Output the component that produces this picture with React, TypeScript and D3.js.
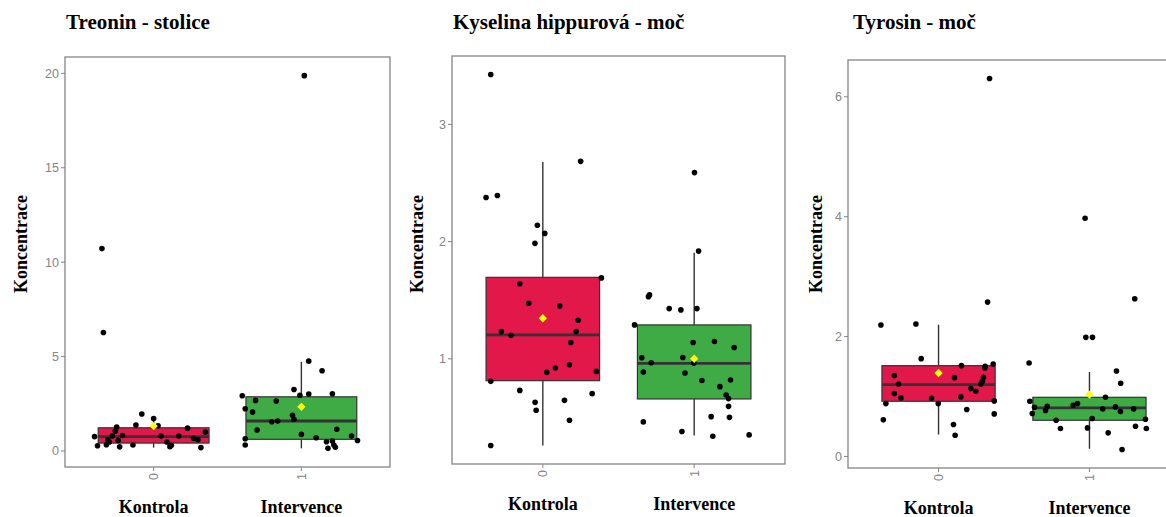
import React from 'react';
import * as d3 from 'd3';

// categories
const groups = ['0', '1'];
const groupLabels = ['Kontrola', 'Intervence'];
const titles = ['Treonin - stolice', 'Kyselina hippurová - moč', 'Tyrosin - moč'];

// y tick values per panel
const treoninTicks = [0, 5, 10, 15, 20];
const hippurTicks = [1, 2, 3];
const tyrosinTicks = [0, 2, 4, 6];

// box stats: [Kontrola, Intervence]
const treoninBox = [
  { lo: 0.18, q1: 0.42, med: 0.76, q3: 1.23, hi: 1.72, mean: 1.32 },
  { lo: 0.14, q1: 0.62, med: 1.59, q3: 2.87, hi: 4.72, mean: 2.34 },
];
const hippurBox = [
  { lo: 0.26, q1: 0.813, med: 1.204, q3: 1.695, hi: 2.68, mean: 1.346 },
  { lo: 0.345, q1: 0.657, med: 0.96, q3: 1.289, hi: 1.905, mean: 1.0 },
];
const tyrosinBox = [
  { lo: 0.366, q1: 0.921, med: 1.199, q3: 1.515, hi: 2.198, mean: 1.393 },
  { lo: 0.128, q1: 0.604, med: 0.811, q3: 0.987, hi: 1.41, mean: 1.032 },
];

// jittered points: [offset from category centre (in category steps), value]
const treoninKontrola = [
  [-0.08, 1.96], [0.0, 1.72], [0.03, 1.34], [-0.12, 1.38], [-0.25, 1.27], [0.23, 1.21],
  [-0.26, 1.05], [0.35, 1.0], [-0.4, 0.76], [-0.28, 0.8], [-0.21, 0.82], [0.05, 0.79],
  [0.17, 0.79], [0.27, 0.67], [0.3, 0.6], [-0.31, 0.58], [-0.3, 0.48], [-0.24, 0.56],
  [0.09, 0.48], [-0.38, 0.28], [-0.32, 0.33], [-0.23, 0.22], [-0.14, 0.32], [0.11, 0.23],
  [0.12, 0.3], [0.32, 0.18], [-0.34, 6.28], [-0.35, 10.72],
];
const treoninIntervence = [
  [0.05, 4.76], [0.14, 4.25], [-0.05, 3.26], [-0.4, 2.93], [-0.01, 2.95], [0.05, 3.02],
  [0.21, 3.03], [-0.31, 2.68], [-0.17, 2.65], [-0.38, 2.24], [-0.33, 2.06], [-0.06, 1.89],
  [-0.05, 1.68], [-0.2, 1.55], [-0.16, 1.59], [-0.3, 1.11], [0.24, 1.15], [0.0, 0.88],
  [0.34, 0.79], [-0.38, 0.65], [0.1, 0.7], [0.38, 0.56], [-0.38, 0.32], [0.17, 0.49],
  [0.21, 0.53], [0.22, 0.32], [0.18, 0.14], [0.23, 0.2], [0.02, 19.88],
];
const hippurKontrola = [
  [0.25, 2.685], [-0.375, 2.376], [-0.3, 2.393], [-0.036, 2.14], [0.013, 2.07], [-0.052, 1.985],
  [0.387, 1.69], [-0.152, 1.64], [-0.093, 1.474], [0.112, 1.451], [0.233, 1.329], [-0.274, 1.232],
  [-0.21, 1.2], [0.22, 1.232], [0.185, 1.139], [0.176, 0.949], [0.083, 0.921], [0.026, 0.884],
  [0.354, 0.892], [-0.344, 0.807], [-0.152, 0.73], [0.326, 0.702], [-0.051, 0.628], [0.143, 0.645],
  [-0.044, 0.56], [0.176, 0.475], [-0.344, 0.26], [-0.344, 3.426],
];
const hippurIntervence = [
  [0.002, 2.589], [0.029, 1.919], [-0.302, 1.53], [-0.295, 1.545], [-0.165, 1.428], [-0.088, 1.417],
  [0.018, 1.428], [-0.394, 1.289], [-0.007, 1.139], [0.134, 1.147], [0.264, 1.096], [-0.346, 1.009],
  [-0.075, 1.011], [-0.284, 0.966], [-0.002, 0.963], [-0.336, 0.887], [-0.061, 0.878], [0.051, 0.815],
  [0.24, 0.819], [0.17, 0.762], [0.211, 0.691], [0.227, 0.66], [0.227, 0.594], [0.112, 0.506],
  [0.233, 0.5], [-0.336, 0.461], [-0.081, 0.379], [0.123, 0.339], [0.363, 0.35],
];
const tyrosinKontrola = [
  [0.325, 2.575], [-0.382, 2.193], [-0.15, 2.209], [-0.115, 1.632], [0.152, 1.515], [0.309, 1.504],
  [0.362, 1.543], [0.307, 1.477], [-0.293, 1.349], [0.106, 1.315], [0.298, 1.32], [-0.265, 1.21],
  [0.291, 1.254], [0.28, 1.21], [0.214, 1.132], [0.247, 1.087], [-0.293, 1.049], [0.148, 0.994],
  [-0.249, 0.977], [-0.046, 0.971], [0.369, 0.927], [-0.349, 0.882], [-0.002, 0.882], [0.187, 0.783],
  [0.369, 0.71], [-0.366, 0.611], [0.099, 0.533], [0.11, 0.355], [0.338, 6.305],
];
const tyrosinIntervence = [
  [0.3, 2.631], [-0.024, 1.987], [0.02, 1.987], [-0.4, 1.56], [0.179, 1.427], [0.207, 1.221],
  [0.106, 0.988], [-0.395, 0.921], [-0.364, 0.821], [-0.28, 0.838], [-0.291, 0.766], [-0.379, 0.716],
  [-0.108, 0.855], [-0.079, 0.882], [0.088, 0.794], [0.172, 0.827], [0.205, 0.749], [0.293, 0.794],
  [-0.221, 0.604], [0.018, 0.633], [0.371, 0.621], [-0.192, 0.466], [-0.013, 0.477], [0.305, 0.505],
  [0.377, 0.466], [0.124, 0.394], [0.216, 0.117], [-0.029, 3.974],
];

const fills = ['#e2184b', '#3eab45'];
const serif = '"Liberation Serif", "Times New Roman", serif';
const sans = '"Liberation Sans", Arial, sans-serif';
const grey = '#858585';
const dark = '#333333';

// panel frames on the page
const frames = [
  { left: 65, top: 57, right: 390, bottom: 467, titleX: 66, ylabX: 27 },
  { left: 452, top: 56, right: 785, bottom: 464, titleX: 453, ylabX: 423 },
  { left: 848, top: 60, right: 1180, bottom: 468, titleX: 853, ylabX: 822 },
];

const Panel = ({ frame, title, ticks, boxes, points }) => {
  const x = d3.scalePoint().domain(groups).range([frame.left, frame.right]).padding(0.6);
  const step = x.step();
  const vals = points.flat().map(p => p[1]).concat(boxes.flatMap(b => [b.lo, b.hi]));
  const [mn, mx] = d3.extent(vals);
  const pad = (mx - mn) * 0.05;
  const y = d3.scaleLinear().domain([mn - pad, mx + pad]).range([frame.bottom, frame.top]);
  const bw = step * 0.75;
  const diamond = d3.symbol(d3.symbolDiamond2, 44)();
  const midY = 244;

  return (
    <g>
      <text x={frame.titleX} y={28.5} fontFamily={serif} fontWeight="bold" fontSize={21} fill="#000">
        {title}
      </text>
      <text
        transform={`translate(${frame.ylabX},${midY}) rotate(-90)`}
        textAnchor="middle"
        fontFamily={serif}
        fontWeight="bold"
        fontSize={18}
        fill="#000"
      >
        Koncentrace
      </text>

      {ticks.map(t => (
        <g key={t} transform={`translate(${frame.left},${y(t)})`}>
          <line x1={-4} x2={0} stroke={grey} strokeWidth={1} />
          <text x={-6} dy="0.35em" textAnchor="end" fontFamily={sans} fontSize={12.5} fill={grey}>
            {t}
          </text>
        </g>
      ))}

      {groups.map((g, i) => (
        <g key={g} transform={`translate(${x(g)},${frame.bottom})`}>
          <line y1={0} y2={4} stroke={grey} strokeWidth={1} />
          <text
            transform="translate(0,6) rotate(-90)"
            dy="0.35em"
            textAnchor="end"
            fontFamily={sans}
            fontSize={12.5}
            fill={grey}
          >
            {g}
          </text>
          <text y={45.5} textAnchor="middle" fontFamily={serif} fontWeight="bold" fontSize={18} fill="#000">
            {groupLabels[i]}
          </text>
        </g>
      ))}

      {boxes.map((b, i) => {
        const cx = x(groups[i]);
        return (
          <g key={i}>
            <line x1={cx} x2={cx} y1={y(b.hi)} y2={y(b.q3)} stroke={dark} strokeWidth={1.4} />
            <line x1={cx} x2={cx} y1={y(b.q1)} y2={y(b.lo)} stroke={dark} strokeWidth={1.4} />
            <rect
              x={cx - bw / 2}
              y={y(b.q3)}
              width={bw}
              height={y(b.q1) - y(b.q3)}
              fill={fills[i]}
              stroke={dark}
              strokeWidth={1.2}
            />
            <line x1={cx - bw / 2} x2={cx + bw / 2} y1={y(b.med)} y2={y(b.med)} stroke={dark} strokeWidth={2.8} />
          </g>
        );
      })}

      {points.map((set, i) =>
        set.map((p, j) => (
          <circle key={`${i}-${j}`} cx={x(groups[i]) + p[0] * step} cy={y(p[1])} r={2.8} fill="#000" />
        ))
      )}

      {boxes.map((b, i) => (
        <path key={i} d={diamond} transform={`translate(${x(groups[i])},${y(b.mean)})`} fill="#ffff00" />
      ))}

      <rect
        x={frame.left}
        y={frame.top}
        width={frame.right - frame.left}
        height={frame.bottom - frame.top}
        fill="none"
        stroke={grey}
        strokeWidth={1.3}
      />
    </g>
  );
};

const App = () => {
  const panels = [
    { ticks: treoninTicks, boxes: treoninBox, points: [treoninKontrola, treoninIntervence] },
    { ticks: hippurTicks, boxes: hippurBox, points: [hippurKontrola, hippurIntervence] },
    { ticks: tyrosinTicks, boxes: tyrosinBox, points: [tyrosinKontrola, tyrosinIntervence] },
  ];
  return (
    <div style={{ position: 'absolute', left: 0, top: 0 }}>
      <svg width={1166} height={517} style={{ display: 'block', background: '#fff' }}>
        {panels.map((p, i) => (
          <Panel key={i} frame={frames[i]} title={titles[i]} ticks={p.ticks} boxes={p.boxes} points={p.points} />
        ))}
      </svg>
    </div>
  );
};

export default App;
